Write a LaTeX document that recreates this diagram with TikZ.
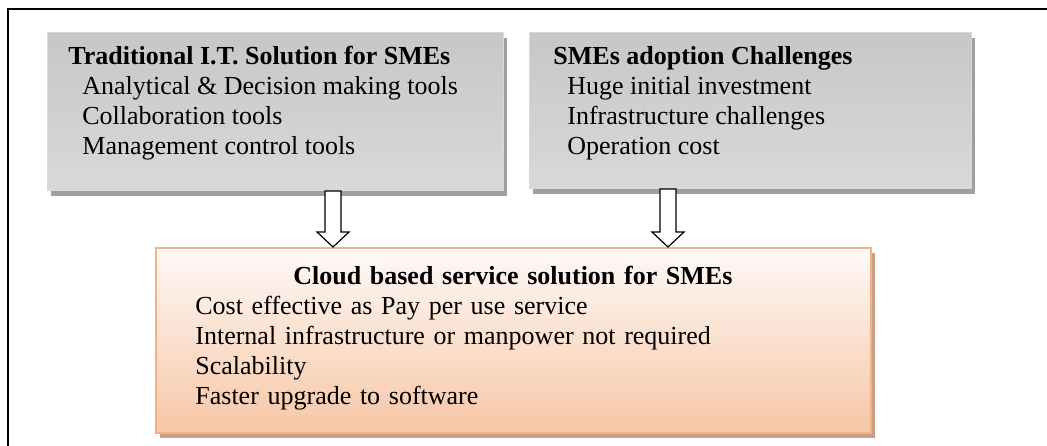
\documentclass[tikz,border=0pt]{standalone}
\usepackage{fontspec}
\setmainfont{Liberation Serif}
\usetikzlibrary{shadows,calc}

\definecolor{peachline}{HTML}{F4B183}
\definecolor{peachtop}{HTML}{FEF9F7}
\definecolor{peachmid}{HTML}{F6E1D5}
\definecolor{peachbot}{HTML}{F7C6A6}
\definecolor{peachshadow}{HTML}{C4A087}

\tikzset{
  graybox/.style={draw=gray!30, line width=0.5pt, anchor=north west,
    top color=gray!44, middle color=gray!12, bottom color=gray!30,
    drop shadow={shadow xshift=1.75pt, shadow yshift=-2.5pt, fill=gray!75, opacity=1}},
  peachbox/.style={draw=peachline, line width=1pt, anchor=north west,
    top color=peachtop, middle color=peachmid, bottom color=peachbot,
    drop shadow={shadow xshift=1.75pt, shadow yshift=-2.5pt, fill=peachshadow, opacity=1}},
  boxtext/.style={anchor=north west, inner sep=0pt, align=left,
    font=\fontsize{13pt}{15pt}\selectfont},
  blockarrow/.style={draw, fill=white, line width=0.6pt, line join=miter}
}

% hollow block arrow: #1 = top of shaft, #2 = tip
\newcommand{\blockdown}[2]{%
  \draw[blockarrow] ($(#1)+(-8,0)$) -- ($(#2)+(-8,-15)$) -- ($(#2)+(-16,-15)$) -- (#2)
    -- ($(#2)+(16,-15)$) -- ($(#2)+(8,-15)$) -- ($(#1)+(8,0)$) -- cycle;}

\begin{document}
\begin{tikzpicture}[x=0.5pt,y=-0.5pt]
  \useasboundingbox (0,0) rectangle (1047,445);
  \clip (0,0) rectangle (1047,445);
  \draw[line width=1.2pt] (8,9) rectangle (1080,480);

  % the three boxes
  \node[graybox, minimum width=228pt, minimum height=79pt] (trad) at (47,32) {};
  \node[graybox, minimum width=221pt, minimum height=78pt] (chal) at (529,32) {};
  \node[peachbox, minimum width=357.5pt, minimum height=92.5pt] (cloud) at (155,247) {};

  \node[boxtext] (tradtext) at ([shift={(21,14)}]trad.north west)
    {\textbf{Traditional I.T. Solution for SMEs}\\
     \hspace*{7pt}Analytical \& Decision making tools\\
     \hspace*{7pt}Collaboration tools\\
     \hspace*{7pt}Management control tools};
  \node[boxtext] (chaltext) at ([shift={(24,14)}]chal.north west)
    {\textbf{SMEs adoption Challenges}\\
     \hspace*{7pt}Huge initial investment\\
     \hspace*{7pt}Infrastructure challenges\\
     \hspace*{7pt}Operation cost};
  \node[boxtext, text width=317.5pt] (cloudtext) at ([shift={(40,19)}]cloud.north west)
    {\makebox[317.5pt]{\textbf{Cloud based service solution for SMEs}}\\
     Cost effective as Pay per use service\\
     Internal infrastructure or manpower not required\\
     Scalability\\
     Faster upgrade to software};

  % arrows into the cloud box
  \coordinate (ax1) at (333,0);
  \coordinate (ax2) at (668,0);
  \coordinate (tradout) at (trad.south -| ax1);
  \coordinate (chalout) at (chal.south -| ax2);
  \coordinate (cloudin1) at (cloud.north -| ax1);
  \coordinate (cloudin2) at (cloud.north -| ax2);
  \blockdown{tradout}{cloudin1}
  \blockdown{chalout}{cloudin2}
\end{tikzpicture}
\end{document}
